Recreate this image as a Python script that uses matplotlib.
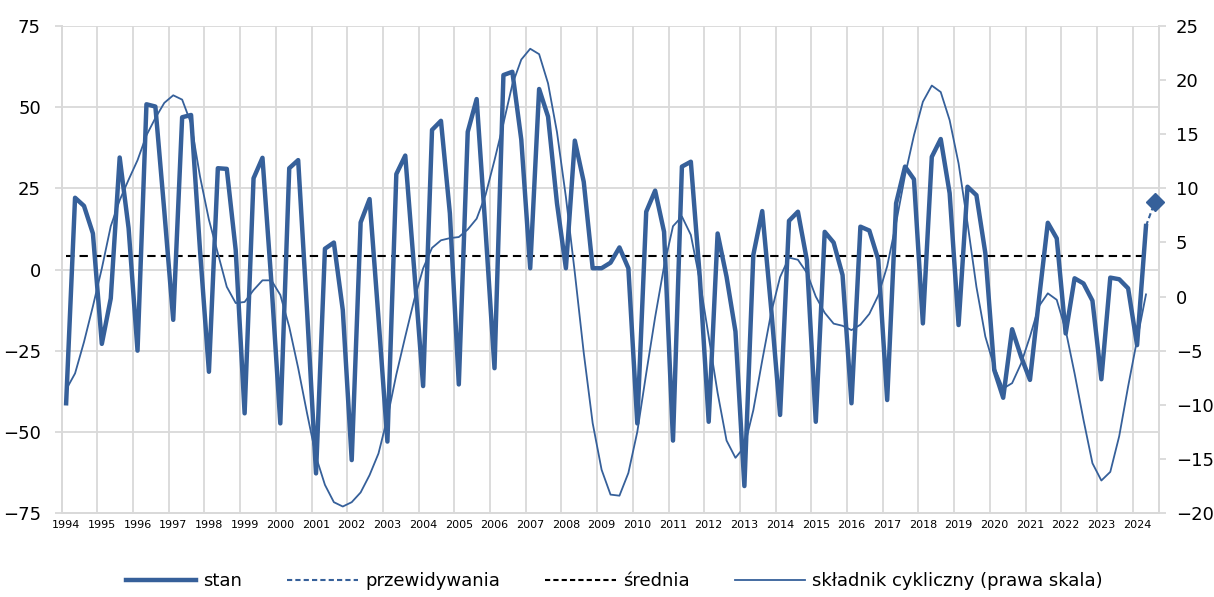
import numpy as np
from matplotlib import pyplot as plt
from matplotlib.lines import Line2D

# quarterly data, 1994Q1 .. 2024Q2 (forecast for 2024Q3)
years = list(range(1994, 2025))

stan = [
    -41.2, 22.1, 19.6, 11.1,
    -22.9, -8.9, 34.5, 12.7,
    -25.0, 50.9, 50.2, 18.0,
    -15.5, 46.9, 47.6, 6.0,
    -31.5, 31.2, 31.0, 6.0,
    -44.3, 28.1, 34.4, -4.0,
    -47.4, 31.2, 33.7, -13.0,
    -62.8, 6.4, 8.3, -12.5,
    -58.7, 14.5, 21.7, -15.0,
    -53.0, 29.4, 35.1, 0.0,
    -35.9, 43.0, 45.8, 17.3,
    -35.4, 42.4, 52.5, 12.0,
    -30.4, 59.9, 60.9, 40.0,
    0.4, 55.6, 47.1, 20.4,
    0.4, 39.7, 27.0, 0.4,
    0.4, 2.1, 6.8, 0.4,
    -47.4, 17.8, 24.3, 11.6,
    -52.7, 31.7, 33.2, -2.2,
    -46.9, 11.1, -2.2, -19.1,
    -66.7, 4.5, 18.0, -12.0,
    -44.8, 15.0, 17.8, 2.9,
    -46.9, 11.6, 8.3, -1.7,
    -41.2, 13.2, 12.0, 3.1,
    -40.2, 20.4, 31.7, 27.8,
    -16.6, 34.7, 40.2, 23.5,
    -17.1, 25.5, 22.9, 5.0,
    -31.0, -39.5, -18.4, -26.8,
    -34.0, -9.4, 14.4, 9.6,
    -19.7, -2.7, -4.3, -9.6,
    -33.8, -2.5, -3.0, -5.8,
    -23.3, 13.4,
]

przewidywania = [13.4, 20.9]   # 2024Q2 .. 2024Q3

srednia = 4.2

cykl = [
    -8.6, -7.1, -4.2, -0.9,
    2.6, 6.5, 8.9, 10.8,
    12.6, 14.9, 16.5, 17.9,
    18.6, 18.2, 16.0, 11.1,
    7.1, 4.0, 0.9, -0.6,
    -0.5, 0.6, 1.5, 1.5,
    0.15, -2.8, -6.6, -10.8,
    -14.8, -17.4, -19.0, -19.4,
    -19.0, -18.1, -16.5, -14.5,
    -11.2, -7.2, -3.7, -0.3,
    2.6, 4.5, 5.2, 5.4,
    5.5, 6.2, 7.2, 9.4,
    12.6, 16.0, 19.6, 21.9,
    22.9, 22.4, 19.7, 15.2,
    9.2, 2.2, -5.2, -11.7,
    -16.0, -18.3, -18.4, -16.3,
    -12.5, -7.1, -1.9, 2.8,
    6.5, 7.4, 5.7, 1.5,
    -3.7, -8.9, -13.3, -14.9,
    -13.9, -10.5, -5.9, -1.5,
    1.8, 3.6, 3.4, 2.2,
    0.0, -1.5, -2.5, -2.7,
    -3.1, -2.6, -1.6, 0.1,
    2.8, 6.8, 11.2, 14.9,
    18.0, 19.5, 18.9, 16.3,
    12.3, 6.8, 0.9, -3.7,
    -6.5, -8.5, -8.0, -6.2,
    -3.7, -0.9, 0.3, -0.3,
    -3.1, -7.1, -11.4, -15.4,
    -17.0, -16.2, -12.9, -8.3,
    -4.0, 0.2,
]

blue = '#36609A'
grid_col = '#D9D9D9'

n = len(stan)
x = np.arange(n)
x_fc = np.arange(n - 1, n - 1 + len(przewidywania))

fig = plt.figure(figsize=(12.14, 5.97), dpi=100)
ax1 = fig.add_axes([0.0508, 0.1407, 0.9042, 0.8157])
ax2 = ax1.twinx()

ax1.plot([x[0], x[-1]], [srednia, srednia], color='black', lw=1.5,
         dashes=(4, 2.5), zorder=2)
ax1.plot(x, stan, color=blue, lw=3.2, solid_joinstyle='round', zorder=3)
ax1.plot(x_fc, przewidywania, color=blue, lw=1.5, dashes=(2.5, 1.5), zorder=3)

ax2.plot(x, cykl, color=blue, lw=1.3)
# forecast marker drawn on the top axes so the right spine does not cover it
ax2.plot(x_fc[-1], przewidywania[-1], marker='D', markersize=9.5, color=blue,
         transform=ax1.transData, zorder=10, clip_on=False)

# axes
ax1.set_xlim(-0.5, n + 0.5)
ax1.set_ylim(-75, 75)
ax1.set_yticks(range(-75, 76, 25))
ax2.set_ylim(-20, 25)
ax2.set_yticks(range(-20, 26, 5))

ax1.set_xticks([4 * k for k in range(len(years))])
ax1.set_xticklabels([str(y) for y in years], fontsize=8)
ax1.set_xticks([4 * k - 0.5 for k in range(len(years))], minor=True)

ax1.grid(True, axis='y', color=grid_col, lw=1.3)
ax1.grid(True, axis='x', which='minor', color=grid_col, lw=1.3)
ax1.set_axisbelow(True)

for ax in (ax1, ax2):
    for s in ax.spines.values():
        s.set_color(grid_col)
        s.set_linewidth(1.3)
    ax.spines['top'].set_visible(False)

ax1.tick_params(axis='y', length=5, color=grid_col, width=1.3, pad=10,
                labelsize=13)
ax2.tick_params(axis='y', length=5, color=grid_col, width=1.3, pad=7,
                labelsize=13)
ax1.tick_params(axis='x', which='both', length=0, pad=5)

handles = [
    Line2D([], [], color=blue, lw=3.2),
    Line2D([], [], color=blue, lw=1.5, dashes=(2.5, 1.5)),
    Line2D([], [], color='black', lw=1.5, dashes=(2.5, 1.5)),
    Line2D([], [], color=blue, lw=1.3),
]
labels = ['stan', 'przewidywania', 'średnia', 'składnik cykliczny (prawa skala)']
fig.legend(handles, labels, loc='center', bbox_to_anchor=(0.506, 0.027),
           ncol=4, frameon=False, fontsize=13, handlelength=3.9,
           handletextpad=0.4, columnspacing=2.5)

plt.savefig('out.png', dpi=100)
